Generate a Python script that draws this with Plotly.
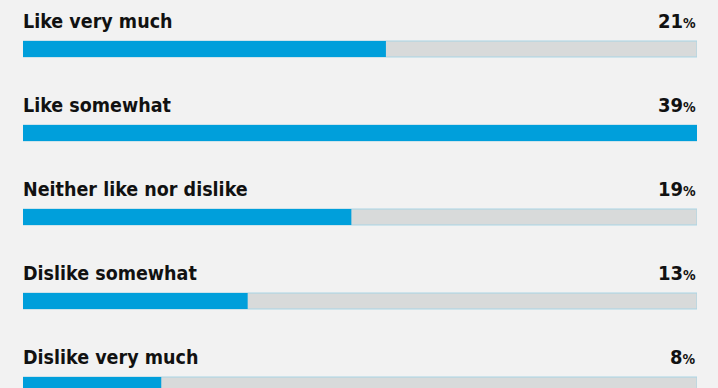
import plotly.graph_objects as go

# Survey responses and their shares (percent)
categories = ["Like very much", "Like somewhat", "Neither like nor dislike",
              "Dislike somewhat", "Dislike very much"]
shares = [21, 39, 19, 13, 8]
scale_max = max(shares)

BG = "#f2f2f2"
BLUE = "#009fdb"
TRACK = "#d8dada"
TRACK_LINE = "#a9d4e4"
FONT = "DejaVu Sans Condensed, sans-serif"

positions = list(range(len(categories)))
bar_w = 0.19

fig = go.Figure()

# Grey background track spanning the full scale
fig.add_trace(go.Bar(
    x=[scale_max] * len(categories), y=positions, orientation="h",
    width=bar_w, marker=dict(color=TRACK, line=dict(color=TRACK_LINE, width=1)),
    hoverinfo="skip", showlegend=False,
))
# Blue value bar
fig.add_trace(go.Bar(
    x=shares, y=positions, orientation="h",
    width=bar_w, marker=dict(color=BLUE, line=dict(width=0)),
    showlegend=False,
))

annotations = []
for pos, cat, val in zip(positions, categories, shares):
    annotations.append(dict(
        x=0, y=pos, xref="x", yref="y", xanchor="left", yanchor="middle",
        xshift=-2, yshift=28, text=f"<b>{cat}</b>", showarrow=False,
        font=dict(family=FONT, size=19.5, color="#111111"),
    ))
    annotations.append(dict(
        x=scale_max, y=pos, xref="x", yref="y", xanchor="right", yanchor="middle",
        xshift=1, yshift=28,
        text=f"<b>{val}<span style='font-size:14px'>%</span></b>",
        showarrow=False, font=dict(family=FONT, size=20, color="#111111"),
    ))

fig.update_layout(
    width=718, height=388,
    margin=dict(l=23, r=21, t=0, b=0),
    paper_bgcolor=BG, plot_bgcolor=BG,
    barmode="overlay",
    xaxis=dict(range=[0, scale_max], visible=False, fixedrange=True),
    yaxis=dict(range=[4.0357, -0.5833], visible=False, fixedrange=True),
    annotations=annotations,
)

fig.write_html("out.html")
